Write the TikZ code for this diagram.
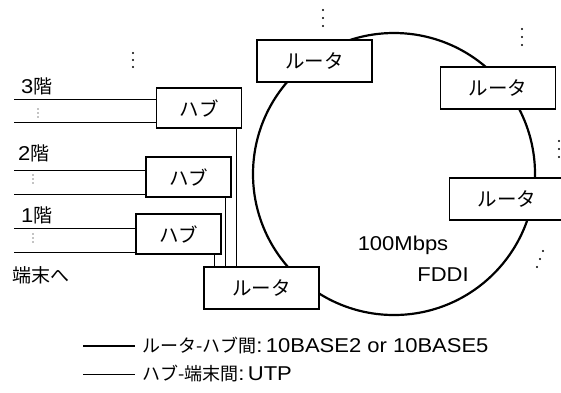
\documentclass[tikz,border=0pt]{standalone}
\usepackage{fontspec}
\setmainfont[FakeStretch=1.1]{Liberation Sans}
\newfontfamily\jp{Noto Sans CJK JP}
\begin{document}
\begin{tikzpicture}[x=1pt,y=-1pt,
  txt/.style={inner sep=0pt,font=\fontsize{20}{23}\selectfont},
  box/.style={draw,fill=white,line width=1.4pt,inner sep=0pt,font=\jp\fontsize{19.5}{22}\selectfont},
  router/.style={box,minimum width=115pt,minimum height=42pt},
  hub/.style={box,minimum width=85pt,minimum height=40pt},
  wire/.style={line width=1.4pt},
  termline/.style={line width=0.9pt},
  ring/.style={line width=2.2pt},
]
\useasboundingbox (0,0) rectangle (561,392);

% FDDI ring
\draw[ring] (394,174) circle (141pt);

% routers
\node[router] (rtop) at (314.5,61) {ルータ};
\node[router] (rtr) at (498,88) {ルータ};
\node[router] (rr) at (507,199) {ルータ};
\node[router] (rbot) at (261.5,288) {ルータ};

% hubs
\node[hub] (hub3) at (199,108) {ハブ};
\node[hub] (hub2) at (188.5,177) {ハブ};
\node[hub] (hub1) at (178.5,234) {ハブ};

% hub to router wires
\draw[wire] ([xshift=-6pt]hub3.south east) -- ([xshift=-6pt]hub3.south east |- rbot.north);
\draw[wire] ([xshift=-6pt]hub2.south east) -- ([xshift=-6pt]hub2.south east |- rbot.north);
\draw[wire] ([xshift=-7pt]hub1.south east) -- ([xshift=-7pt]hub1.south east |- rbot.north);

% terminal lines
\coordinate (t3a) at (14,99);
\coordinate (t3b) at (14,122);
\coordinate (t2a) at (14,170);
\coordinate (t2b) at (14,194);
\coordinate (t1a) at (14,228);
\coordinate (t1b) at (14,252);
\draw[termline] (t3a) -- (t3a -| hub3.west);
\draw[termline] (t3b) -- (t3b -| hub3.west);
\draw[termline] (t2a) -- (t2a -| hub2.west);
\draw[termline] (t2b) -- (t2b -| hub2.west);
\draw[termline] (t1a) -- (t1a -| hub1.west);
\draw[termline] (t1b) -- (t1b -| hub1.west);

% small dots between terminal lines
\foreach \y in {109,113,117} \fill (38,\y) circle (0.6pt);
\foreach \y in {175,179,183} \fill (33,\y) circle (0.6pt);
\foreach \y in {234,238,242} \fill (33,\y) circle (0.6pt);

% continuation dots
\foreach \y in {53,60,67} \fill (133,\y) circle (1.2pt);
\foreach \y in {10,18,26} \fill (323,\y) circle (1.2pt);
\foreach \y in {29,37,45} \fill (522,\y) circle (1.2pt);
\foreach \y in {141,149,157} \fill (559,\y) circle (1.2pt);
\fill (543,251) circle (1.2pt);
\fill (540,259) circle (1.2pt);
\fill (537,267) circle (1.2pt);

% floor labels
\node[txt,anchor=base west] (f3) at (21,93) {3{\jp\fontsize{19}{22}\selectfont 階}};
\node[txt,anchor=base west] (f2) at (18,160) {2{\jp\fontsize{19}{22}\selectfont 階}};
\node[txt,anchor=base west] (f1) at (21,222) {1{\jp\fontsize{19}{22}\selectfont 階}};
\node[txt,anchor=base west,font=\jp\fontsize{19}{22}\selectfont] (term) at (12,282) {端末へ};

% ring label
\node[txt] (mbps) at (403,245) {100Mbps};
\node[txt] (fddi) at (443,275) {FDDI};

% legend
\coordinate (l1a) at (83,346);
\coordinate (l1b) at (135,346);
\coordinate (l2a) at (83,374);
\coordinate (l2b) at (135,374);
\draw[line width=1.7pt] (l1a) -- (l1b);
\draw[line width=0.9pt] (l2a) -- (l2b);
\node[txt,anchor=west] (leg1) at (142,346) {{\jp\fontsize{18}{22}\selectfont ルータ-ハブ間}:\,10BASE2 or 10BASE5};
\node[txt,anchor=west] (leg2) at (142,374) {{\jp\fontsize{18}{22}\selectfont ハブ-端末間}:\,UTP};
\end{tikzpicture}
\end{document}
